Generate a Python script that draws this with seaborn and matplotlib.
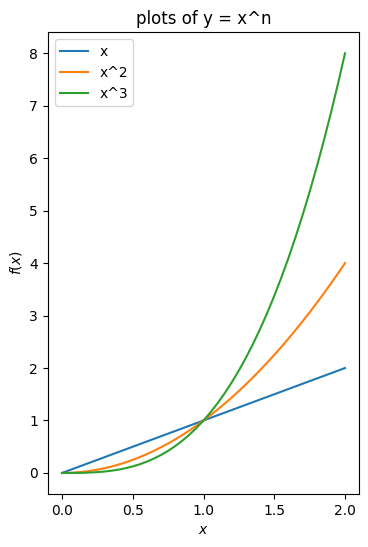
import matplotlib
matplotlib.use('Agg')
import matplotlib.pyplot as plt
import seaborn as sns

x_vals = [0.00, 0.05, 0.10, 0.15, 0.20, 0.25, 0.30, 0.35, 0.40, 0.45,
          0.50, 0.55, 0.60, 0.65, 0.70, 0.75, 0.80, 0.85, 0.90, 0.95,
          1.00, 1.05, 1.10, 1.15, 1.20, 1.25, 1.30, 1.35, 1.40, 1.45,
          1.50, 1.55, 1.60, 1.65, 1.70, 1.75, 1.80, 1.85, 1.90, 1.95, 2.00]
y_lin = [0.00, 0.05, 0.10, 0.15, 0.20, 0.25, 0.30, 0.35, 0.40, 0.45,
         0.50, 0.55, 0.60, 0.65, 0.70, 0.75, 0.80, 0.85, 0.90, 0.95,
         1.00, 1.05, 1.10, 1.15, 1.20, 1.25, 1.30, 1.35, 1.40, 1.45,
         1.50, 1.55, 1.60, 1.65, 1.70, 1.75, 1.80, 1.85, 1.90, 1.95, 2.00]
y_sq = [0, 0.0025, 0.01, 0.0225, 0.04, 0.0625, 0.09, 0.1225, 0.16, 0.2025,
        0.25, 0.3025, 0.36, 0.4225, 0.49, 0.5625, 0.64, 0.7225, 0.81, 0.9025,
        1.0, 1.1025, 1.21, 1.3225, 1.44, 1.5625, 1.69, 1.8225, 1.96, 2.1025,
        2.25, 2.4025, 2.56, 2.7225, 2.89, 3.0625, 3.24, 3.4225, 3.61, 3.8025, 4.0]
y_cube = [0, 0.000125, 0.001, 0.003375, 0.008, 0.015625, 0.027, 0.042875, 0.064, 0.091125,
          0.125, 0.166375, 0.216, 0.274625, 0.343, 0.421875, 0.512, 0.614125, 0.729, 0.857375,
          1.0, 1.157625, 1.331, 1.520875, 1.728, 1.953125, 2.197, 2.460375, 2.744, 3.048625,
          3.375, 3.723875, 4.096, 4.492125, 4.913, 5.359375, 5.832, 6.331625, 6.859, 7.414875, 8.0]
labels = ['x', 'x^2', 'x^3']

fig, ax = plt.subplots(figsize=(3.68, 5.47), dpi=100)
for lab, ys in zip(labels, [y_lin, y_sq, y_cube]):
    sns.lineplot(x=x_vals, y=ys, label=lab, ax=ax)

ax.set_title('plots of y = x^n')
ax.set_xlabel('$x$')
ax.set_ylabel('$f(x)$')
ax.legend(loc='upper left')

fig.subplots_adjust(left=0.130, right=0.976, top=0.941, bottom=0.097)
plt.savefig('out.png')
plt.close()
